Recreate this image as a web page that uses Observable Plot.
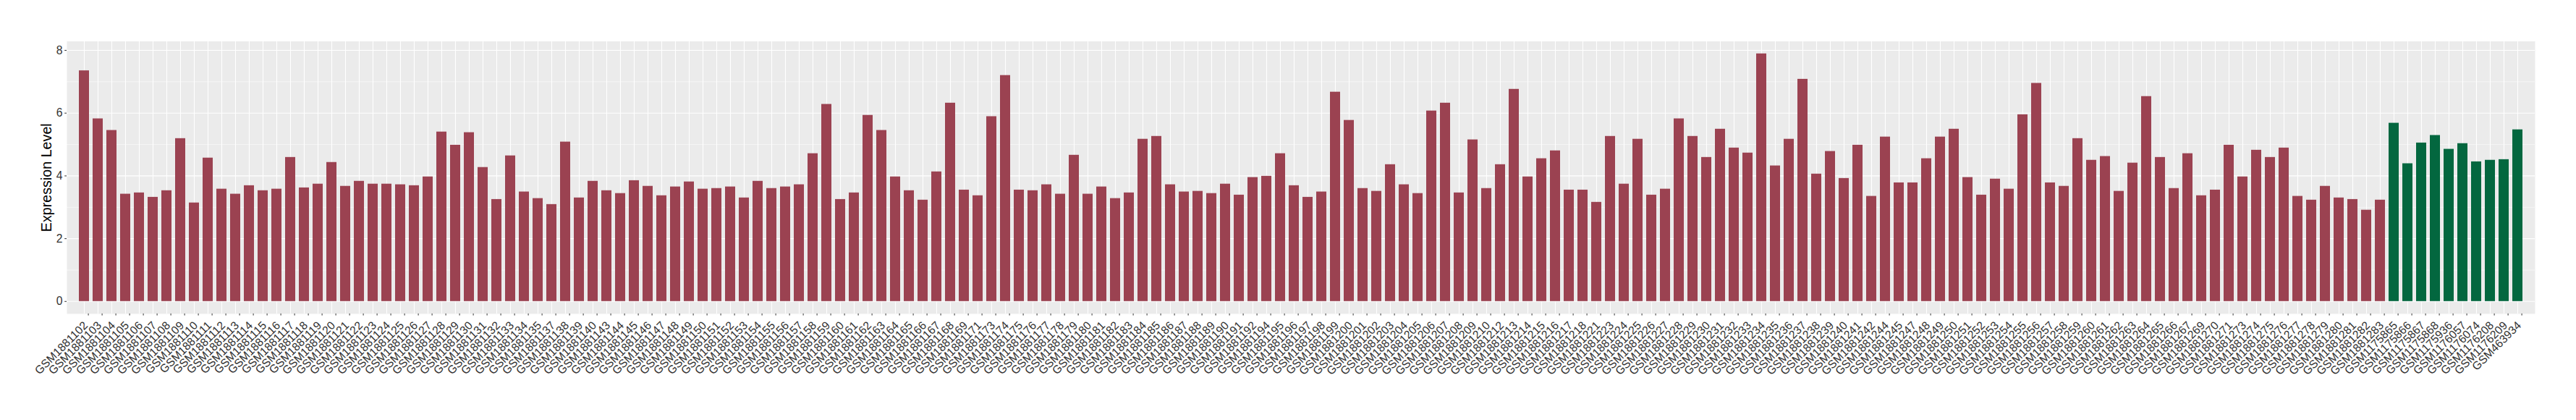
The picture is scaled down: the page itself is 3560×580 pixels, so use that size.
<!DOCTYPE html>
<html><head><meta charset="utf-8">
<script src="https://cdn.jsdelivr.net/npm/d3@7"></script>
<script src="https://cdn.jsdelivr.net/npm/@observablehq/plot@0.6"></script>
<style>body{margin:0;background:#fff} svg{display:block}</style>
</head><body><div id="chart"></div>
<script>
// Sample id suffixes of the GSM1881xxx series (red bars)
const redSuffixes = [
  102,103,104,105,106,107,108,109,110,111,112,113,114,115,116,117,118,119,120,121,122,123,124,125,126,127,128,129,130,131,132,133,134,135,
  137,138,139,140,
  143,144,145,146,147,148,149,150,151,152,153,154,155,156,157,158,159,160,161,162,163,164,165,166,167,168,169,
  171,
  173,174,175,176,177,178,179,180,181,182,183,184,185,186,187,188,189,190,191,192,
  194,195,196,197,198,199,200,201,202,203,204,205,206,207,208,209,210,
  212,213,214,215,216,217,218,
  221,
  223,224,225,226,227,228,229,230,231,232,233,234,235,236,237,238,239,240,241,242,
  244,245,
  247,248,249,250,251,252,253,254,255,256,257,258,259,260,261,262,263,264,265,266,267,
  269,270,271,
  273,274,275,276,277,278,279,280,281,282,283
];
const redValues = [
  7.35,5.82,5.45,3.42,3.46,3.32,3.53,5.19,3.14,4.57,3.58,3.42,3.69,3.53,3.58,4.59,3.62,3.74,4.43,3.67,3.83,3.74,3.74,3.72,3.69,3.97,5.40,4.98,5.38,4.27,3.25,4.64,3.49,3.28,3.09,5.08,3.30,
  3.83,3.53,3.44,3.85,3.67,3.37,3.65,3.81,3.58,3.60,3.65,3.30,3.83,3.60,3.65,3.72,4.71,6.28,3.25,3.46,5.93,5.45,3.97,3.53,3.23,4.13,6.32,3.55,3.37,5.89,7.20,3.55,3.53,3.72,3.42,4.66,3.42,
  3.65,3.28,3.46,5.17,5.26,3.72,3.49,3.51,3.44,3.74,3.39,3.95,3.99,4.71,3.69,3.32,3.49,6.67,5.77,3.60,3.51,4.36,3.72,3.44,6.07,6.32,3.46,5.15,3.60,4.36,6.76,3.97,4.55,4.80,3.55,3.55,3.16,
  5.26,3.74,5.17,3.39,3.58,5.82,5.26,4.59,5.49,4.89,4.73,7.89,4.32,5.17,7.08,4.06,4.78,3.92,4.98,3.35,5.24,3.78,3.78,4.55,5.24,5.49,3.95,3.39,3.90,3.58,5.95,6.95,3.78,3.67,5.19,4.50,4.62,
  3.51,4.41,6.53,4.59,3.60,4.71,3.37,3.55,4.98,3.97,4.82,4.59,4.89,3.35,3.23,3.67,3.30,3.25,2.91,3.23
];
const greenSamples = ["GSM1175865","GSM1175866","GSM1175867","GSM1175868","GSM1175936","GSM1176057","GSM1176074","GSM1176208","GSM1176209","GSM463934"];
const greenValues = [5.68,4.39,5.05,5.29,4.85,5.03,4.45,4.50,4.52,5.47];
const yTicks = [0,2,4,6,8];
const yMinorTicks = [1,3,5,7];
const yLabel = "Expression Level";
const groups = ["GSE1881 samples","GSE1175 samples"];
const groupColors = ["#9B4251","#03673F"];

const redSamples = redSuffixes.map(s => "GSM1881" + s);
const data = [
  ...redSamples.map((id, i) => ({id, value: redValues[i], group: groups[0]})),
  ...greenSamples.map((id, i) => ({id, value: greenValues[i], group: groups[1]}))
];
const ids = data.map(d => d.id);

const chart = Plot.plot({
  width: 3560, height: 580,
  marginLeft: 92, marginRight: 57, marginTop: 56.6, marginBottom: 147.1,
  style: {fontFamily: "'Liberation Sans', Arial, sans-serif", background: "white", color: "#1a1a1a"},
  x: {domain: ids, paddingInner: 0.27, paddingOuter: 0.235, label: null},
  y: {domain: [-0.3946, 8.2866], label: null},
  color: {domain: groups, range: groupColors},
  marks: [
    Plot.frame({fill: "#EBEBEB", stroke: null}),
    Plot.gridY(yMinorTicks, {stroke: "white", strokeOpacity: 1, strokeWidth: 0.55}),
    Plot.gridY(yTicks, {stroke: "white", strokeOpacity: 1, strokeWidth: 1.1}),
    Plot.gridX({stroke: "white", strokeOpacity: 1, strokeWidth: 1.1}),
    Plot.barY(data, {x: "id", y: "value", fill: "group"}),
    Plot.axisY(yTicks, {tickSize: 2.8, tickPadding: 3.1, fontSize: 15.7, stroke: "#333", fill: "#333", label: null}),
    Plot.axisX({tickSize: 2.7, tickPadding: 14.2, dx: 5.6, tickRotate: -45, textAnchor: "end", lineAnchor: "bottom", fontSize: 15.7, stroke: "#333", fill: "#333", label: null}),
    Plot.text([yLabel], {frameAnchor: "left", rotate: -90, dx: -21.3, textAnchor: "middle", lineAnchor: "bottom", fontSize: 19.7, fill: "black", text: d => d})
  ]
});
document.getElementById("chart").appendChild(chart);
</script>
</body></html>
